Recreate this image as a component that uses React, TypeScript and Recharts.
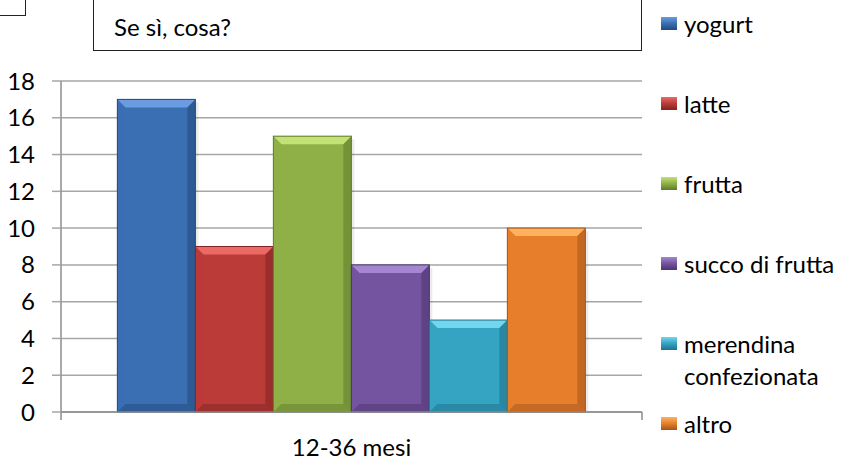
import React from 'react'
import { BarChart, Bar, XAxis, YAxis, CartesianGrid, Legend } from 'recharts'

// serie e valori (unica categoria: fascia d'età)
const CATEGORIES = ['12-36 mesi']
const SERIES = ['yogurt', 'latte', 'frutta', 'succo di frutta', 'merendina confezionata', 'altro']
const VALUES = [17, 9, 15, 8, 5, 10]
const COLORS = ['#3a6fb3', '#bb3b39', '#8fb046', '#7453a0', '#35a3c2', '#e67e2c']
const LIGHT = ['#6b9be0', '#ec6a66', '#c2e276', '#a487cf', '#73d6ef', '#ffb25e']
const DARK = ['#24497a', '#7f2524', '#5f7a2c', '#4c356e', '#207189', '#a2561b']
const Y_TICKS = [0, 2, 4, 6, 8, 10, 12, 14, 16, 18]

const FONT = 'Lato, "Liberation Sans", sans-serif'
const FS = 24

const data = CATEGORIES.map(c => {
  const row: Record<string, string | number> = { cat: c }
  SERIES.forEach((s, i) => { row[s] = VALUES[i] })
  return row
})

// barra con smussatura in rilievo
const BevelBar = (idx: number) => (props: any) => {
  const { x, y, width: w, height: h } = props
  if (!h || h <= 0) return null
  const b = Math.min(8, h / 2)
  return (
    <g>
      <rect x={x + 3} y={y + 3} width={w} height={h - 3} fill="#000" opacity={0.08} />
      <rect x={x} y={y} width={w} height={h} fill={COLORS[idx]} />
      <polygon points={`${x},${y} ${x + w},${y} ${x + w - b},${y + b} ${x + b},${y + b}`} fill={LIGHT[idx]} />
      <polygon points={`${x},${y} ${x + b},${y + b} ${x + b},${y + h - b} ${x},${y + h}`} fill={COLORS[idx]} opacity={0.85} />
      <polygon points={`${x + w},${y} ${x + w - b},${y + b} ${x + w - b},${y + h - b} ${x + w},${y + h}`} fill={DARK[idx]} opacity={0.55} />
      <polygon points={`${x},${y + h} ${x + b},${y + h - b} ${x + w - b},${y + h - b} ${x + w},${y + h}`} fill={DARK[idx]} opacity={0.5} />
      <rect x={x} y={y} width={w} height={h} fill="none" stroke={DARK[idx]} strokeWidth={1} />
    </g>
  )
}

const LegendBox = () => (
  <div style={{ fontFamily: FONT, fontSize: FS, color: '#000' }}>
    {SERIES.map((s, i) => (
      <div key={s} style={{ position: 'absolute', top: i * 80, left: 0, display: 'flex', alignItems: 'flex-start', width: 180 }}>
        <span style={{
          display: 'inline-block', width: 16, height: 13, marginTop: 9, marginRight: 7, flexShrink: 0,
          background: `linear-gradient(${LIGHT[i]}, ${COLORS[i]} 50%, ${DARK[i]})`,
        }} />
        <span style={{ lineHeight: '32px', width: i === 4 ? 150 : 170, whiteSpace: i === 4 ? 'normal' : 'nowrap' }}>{s}</span>
      </div>
    ))}
  </div>
)

// etichetta di categoria con i trattini ai bordi dell'asse
const AxisLabel = (props: any) => {
  const { x, y, width } = props.viewBox
  return (
    <g>
      <line x1={x} y1={y} x2={x} y2={y + 8} stroke="#8c8c8c" strokeWidth={1.5} />
      <line x1={x + width} y1={y} x2={x + width} y2={y + 8} stroke="#8c8c8c" strokeWidth={1.5} />
      <text x={x + width / 2} y={y + 44} textAnchor="middle" fontFamily={FONT} fontSize={FS} fill="#000">
        {CATEGORIES[0]}
      </text>
    </g>
  )
}

export default function App() {
  return (
    <div style={{ position: 'fixed', left: 0, top: 0, width: 841, height: 468, background: '#fff' }}>
      <div style={{ position: 'absolute', left: -2, top: -2, width: 26, height: 16, border: '1.5px solid #222' }} />
      <div style={{
        position: 'absolute', left: 93, top: -2, width: 549, height: 53, border: '1.5px solid #222',
        boxSizing: 'border-box', fontFamily: FONT, fontSize: FS, paddingLeft: 20, lineHeight: '56px',
      }}>
        Se sì, cosa?
      </div>
      <BarChart
        width={841}
        height={468}
        data={data}
        margin={{ top: 81, right: 19, bottom: 0, left: 11 }}
        barCategoryGap="9.7%"
        barGap={0}
      >
        <CartesianGrid vertical={false} stroke="#a6a6a6" strokeWidth={1.5} />
        <XAxis
          dataKey="cat"
          tick={false}
          tickLine={false}
          axisLine={{ stroke: '#8c8c8c', strokeWidth: 1.5 }}
          height={56}
          label={{ position: 'insideTop', content: (p: any) => <AxisLabel {...p} /> }}
        />
        <YAxis
          width={50}
          domain={[0, 18]}
          ticks={Y_TICKS}
          interval={0}
          tickSize={9}
          tickMargin={17}
          tickLine={{ stroke: '#a6a6a6', strokeWidth: 1.5 }}
          axisLine={{ stroke: '#8c8c8c', strokeWidth: 1.5 }}
          tick={{ fontFamily: FONT, fontSize: FS, fill: '#000' }}
        />
        <Legend
          layout="vertical"
          align="right"
          verticalAlign="top"
          content={<LegendBox />}
          wrapperStyle={{ left: 661, top: 8, width: 180 }}
        />
        {SERIES.map((s, i) => (
          <Bar key={s} dataKey={s} fill={COLORS[i]} shape={BevelBar(i)} isAnimationActive={false} />
        ))}
      </BarChart>
    </div>
  )
}
